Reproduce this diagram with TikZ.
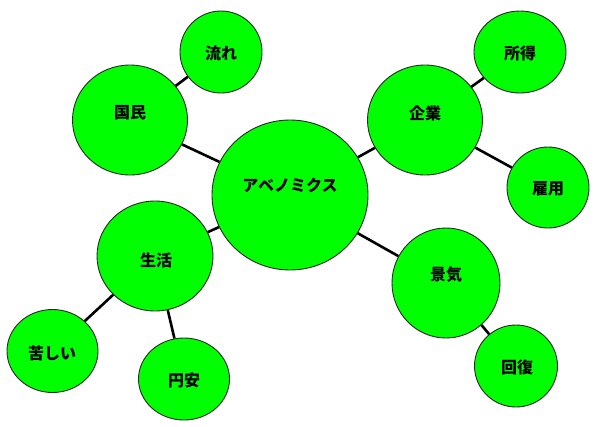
\documentclass[tikz,border=0pt]{standalone}
\usepackage{fontspec}
\newfontfamily\cjk{Noto Sans CJK JP}
\usetikzlibrary{shapes.geometric}
\tikzset{
  bubble/.style={ellipse, draw=black!85, line width=0.9pt, fill=green!100, inner sep=0pt},
  link/.style={line width=2.6pt, black},
  txt/.style={font=\cjk\bfseries\fontsize{16}{18}\selectfont, text=black}
}
\definecolor{green}{RGB}{0,255,0}
\begin{document}
\begin{tikzpicture}[x=1pt,y=-1pt]
\useasboundingbox (0,0) rectangle (600,426);
% nodes
\node[bubble, minimum width=156, minimum height=150] (main) at (290,195) {};
\node[bubble, minimum width=115, minimum height=110] (nat) at (130,120) {};
\node[bubble, minimum width=82, minimum height=82] (flow) at (221,52) {};
\node[bubble, minimum width=115, minimum height=110] (corp) at (425,120) {};
\node[bubble, minimum width=92, minimum height=82] (inc) at (520,52) {};
\node[bubble, minimum width=82, minimum height=81] (emp) at (548,187.5) {};
\node[bubble, minimum width=116, minimum height=110] (life) at (155,256) {};
\node[bubble, minimum width=91, minimum height=83] (hard) at (52.5,351) {};
\node[bubble, minimum width=91, minimum height=82] (yen) at (184,379) {};
\node[bubble, minimum width=108, minimum height=110] (econ) at (446,283) {};
\node[bubble, minimum width=83, minimum height=82] (rec) at (516,366) {};
% connectors
\draw[link] (nat) -- (flow);
\draw[link] (nat) -- (main);
\draw[link] (corp) -- (inc);
\draw[link] (corp) -- (main);
\draw[link] (corp) -- (emp);
\draw[link] (life) -- (main);
\draw[link] (life) -- (hard);
\draw[link] (life) -- (yen);
\draw[link] (main) -- (econ);
\draw[link] (econ) -- (rec);
% texts
\node[txt] (tmain) at (290,185) {アベノミクス};
\node[txt] (tnat) at (130,113) {国民};
\node[txt] (tflow) at (221,53) {流れ};
\node[txt] (tcorp) at (425,113) {企業};
\node[txt] (tinc) at (520,53) {所得};
\node[txt] (temp) at (548,189) {雇用};
\node[txt] (tlife) at (156,260) {生活};
\node[txt] (thard) at (52,353) {苦しい};
\node[txt] (tyen) at (184,380) {円安};
\node[txt] (tecon) at (446,275) {景気};
\node[txt] (trec) at (517,367) {回復};
\end{tikzpicture}
\end{document}
